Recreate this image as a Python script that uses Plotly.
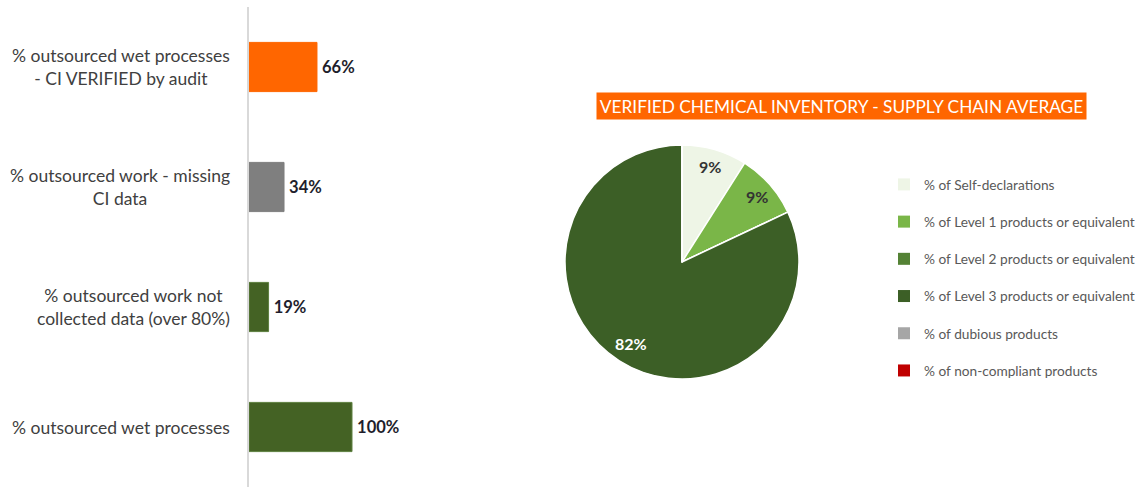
import math
import plotly.graph_objects as go

# ---- data ----
bar_categories = [
    "% outsourced wet processes<br>- CI VERIFIED by audit",
    "% outsourced work - missing<br>CI data",
    "% outsourced work not<br>collected data (over 80%)",
    "% outsourced wet processes",
]
bar_values = [66, 34, 19, 100]
bar_colors = ["#FF6600", "#7F7F7F", "#446224", "#446224"]
bar_edge_colors = ["#FF6600", "#7F7F7F", "#5E8040", "#5E8040"]

pie_labels = [
    "% of Self-declarations",
    "% of Level 1 products or equivalent",
    "% of Level 2 products or equivalent",
    "% of Level 3 products or equivalent",
    "% of dubious products",
    "% of non-compliant products",
]
pie_values = [9, 9, 0, 82, 0, 0]
pie_colors = ["#EEF5E6", "#7AB648", "#548235", "#3C5F26", "#A6A6A6", "#C00000"]
pie_text_colors = ["#333333", "#333333", "#333333", "#FFFFFF", "#333333", "#333333"]

title_text = "VERIFIED CHEMICAL INVENTORY - SUPPLY CHAIN AVERAGE"

W, H = 1140, 487
FONT = "Lato"

# pie geometry (pixels)
PCX, PCY, PR = 682, 262, 117

fig = go.Figure()

fig.add_trace(go.Bar(
    y=bar_categories, x=bar_values, orientation="h",
    marker=dict(color=bar_colors, line=dict(color=bar_edge_colors, width=1)),
    text=[f"\u2009{v}%" for v in bar_values], textposition="outside",
    textfont=dict(family=FONT, size=16.5, color="#1E1E2C", weight="bold"),
    cliponaxis=False, showlegend=False, hoverinfo="skip",
))

fig.add_trace(go.Pie(
    labels=pie_labels, values=pie_values, sort=False, direction="clockwise", rotation=0,
    marker=dict(colors=pie_colors, line=dict(color="#FFFFFF", width=1.5)),
    textinfo="none",
    domain=dict(x=[(PCX - PR) / W, (PCX + PR) / W], y=[1 - (PCY + PR) / H, 1 - (PCY - PR) / H]),
    showlegend=False, hoverinfo="label+percent",
))

# legend entries (one group each so spacing can be controlled)
for lab, col in zip(pie_labels, pie_colors):
    fig.add_trace(go.Scatter(
        x=[None], y=[None], mode="markers", name=lab, legendgroup=lab,
        marker=dict(symbol="square", size=7, color=col),
        showlegend=True,
    ))

annotations = []
for cat in bar_categories:
    annotations.append(dict(
        x=0, y=cat, xref="x", yref="y", text=cat, showarrow=False,
        xanchor="right", yanchor="middle", align="center", xshift=-17,
        font=dict(family=FONT, size=17.5, color="#404040"),
    ))

# pie percentage labels, placed along each slice's mid-angle
total = sum(pie_values)
cum = 0
for v, tc in zip(pie_values, pie_text_colors):
    if v > 0:
        mid = (cum + v / 2) / total * 2 * math.pi
        r = PR * (0.82 if v > 50 else 0.85)
        px = PCX + r * math.sin(mid)
        py = PCY - r * math.cos(mid)
        annotations.append(dict(
            x=px / W, y=1 - py / H, xref="paper", yref="paper",
            text=f"{round(v / total * 100)}%", showarrow=False,
            xanchor="center", yanchor="middle",
            font=dict(family=FONT, size=16, color=tc, weight="bold"),
        ))
    cum += v

annotations.append(dict(
    x=841.5 / W, y=1 - 106 / H, xref="paper", yref="paper", text=title_text,
    showarrow=False, xanchor="center", yanchor="middle",
    bgcolor="#FF6600", width=489, height=26, borderpad=0,
    font=dict(family=FONT, size=17.3, color="#FFFFFF"),
))

fig.update_layout(
    width=W, height=H,
    margin=dict(l=0, r=0, t=0, b=0),
    paper_bgcolor="#FFFFFF", plot_bgcolor="#FFFFFF",
    font=dict(family=FONT),
    bargap=0.59,
    xaxis=dict(domain=[249 / W, 462 / W], range=[0, 206.8], visible=False, fixedrange=True),
    yaxis=dict(domain=[0, 1 - 7 / H], autorange="reversed", showticklabels=False,
               showline=True, linecolor="#D9D9D9", linewidth=2, ticks="", showgrid=False,
               zeroline=False),
    legend=dict(x=884 / W, y=1 - 169 / H, xanchor="left", yanchor="top",
                font=dict(family=FONT, size=13.7, color="#595959"),
                tracegroupgap=16.4, itemwidth=30, itemsizing="constant",
                bgcolor="rgba(0,0,0,0)"),
    annotations=annotations,
)

fig.write_html("out.html", config={"displayModeBar": False},
               post_script="document.body.style.margin='0';")
